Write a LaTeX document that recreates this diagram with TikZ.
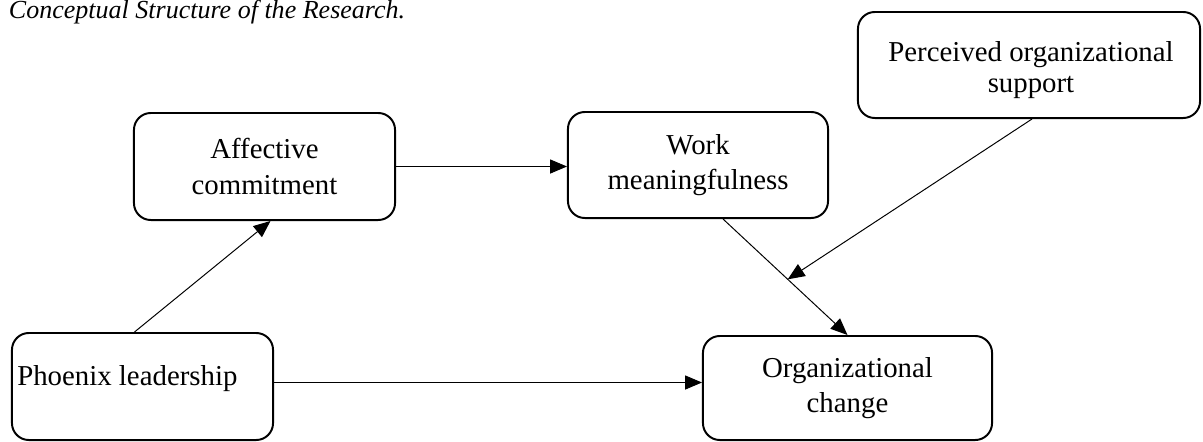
\documentclass[tikz,border=0pt]{standalone}
\usepackage{fontspec}
\setmainfont{Liberation Serif}
\usetikzlibrary{arrows.meta}

\begin{document}
\begin{tikzpicture}[%
      x=0.025cm, y=-0.025cm,
      box/.style={draw=black, line width=1.4pt, rounded corners=12pt,
        align=center, inner sep=2pt, font=\fontsize{20.5}{25}\selectfont},
      arr/.style={color=black, line width=0.7pt,
        -{Triangle[length=12pt,width=10pt]}},
      ]
      \useasboundingbox (0,0) rectangle (1203,441);

      \node [anchor=base west, font=\fontsize{18.5}{22}\selectfont\itshape] (title) at (4,18) {Conceptual Structure of the Research.};

      % boxes
      \node [box, minimum width=8.55cm, minimum height=2.65cm] (pos) at (1029,65) {};
      \node [align=center, font=\fontsize{20.5}{21.5}\selectfont, inner sep=0pt] (postext) at (1031,70) {Perceived organizational\\support};
      \node [box, minimum width=6.525cm, minimum height=2.675cm] (ac) at (264.5,166.5) {Affective\\commitment};
      \node [box, minimum width=6.5cm, minimum height=2.65cm] (wm) at (698,165) {Work\\meaningfulness};
      \node [box, minimum width=6.525cm, minimum height=2.675cm] (pl) at (142.5,386.5) {};
      \node [anchor=base west, font=\fontsize{20.5}{25}\selectfont, inner sep=0pt] (pltext) at (17,385) {Phoenix leadership};
      \node [box, minimum width=7.225cm, minimum height=2.6cm] (oc) at (847.5,388) {Organizational\\change};

      % paths
      \draw [arr] (ac.east) -- (ac.east -| wm.west);
      \draw [arr] ([xshift=-0.2cm]pl.north) -- ([xshift=0.15cm]ac.south);
      \draw [arr] ([yshift=0.1cm]pl.east) -- ([yshift=0.1cm]pl.east -| oc.west);
      \draw [arr] ([xshift=0.625cm]wm.south) -- coordinate[pos=0.52] (mod) (oc.north);
      \draw [arr] ([xshift=0.075cm]pos.south) -- (mod);
\end{tikzpicture}
\end{document}
